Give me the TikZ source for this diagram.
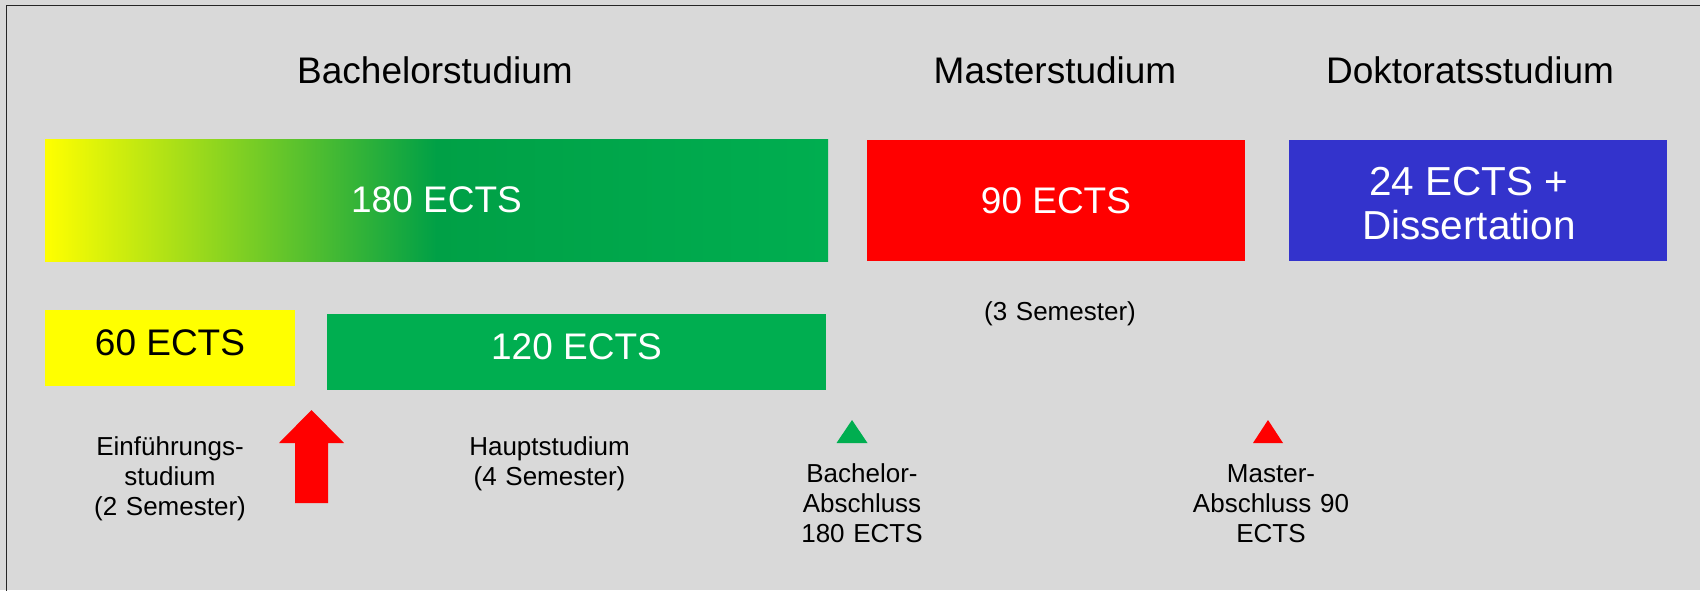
\documentclass[tikz,border=0pt]{standalone}
\usepackage{fontspec}
\setmainfont{Liberation Sans}
\definecolor{bg}{HTML}{D9D9D9}
\definecolor{gyel}{HTML}{FFFF00}
\definecolor{gdk}{HTML}{00A046}
\definecolor{ggrn}{HTML}{00AE50}
\definecolor{mred}{HTML}{FF0000}
\definecolor{dblue}{HTML}{3333CC}
\pgfdeclarehorizontalshading{bachgrad}{100bp}{color(0bp)=(gyel); color(25bp)=(gyel); color(50bp)=(gdk); color(75bp)=(ggrn); color(100bp)=(ggrn)}
\begin{document}
\begin{tikzpicture}[x=1pt,y=-1pt,
  bar/.style={rectangle, inner sep=0pt, outer sep=0pt},
  bigtxt/.style={font=\fontsize{37}{45}\selectfont},
  titletxt/.style={font=\fontsize{37}{45}\selectfont, inner sep=0pt, anchor=base},
  smalltxt/.style={font=\fontsize{26}{30}\selectfont, align=center, text width=240pt, inner sep=0pt, anchor=base},
  blockarrow/.style={fill=mred}
]
\useasboundingbox (0,0) rectangle (1700,590);
\fill[bg] (0,0) rectangle (1700,590);
\draw[line width=1.4pt, color=black!85] (6.5,592) -- (6.5,5.3) -- (1702,5.3);

% titles
\node[titletxt] (tb) at (435,83.3) {Bachelorstudium};
\node[titletxt] (tm) at (1055,83.3) {Masterstudium};
\node[titletxt] (td) at (1470,83.3) {Doktoratsstudium};

% top bars
\node[bar, shading=bachgrad, minimum width=783pt, minimum height=122pt, text=white, bigtxt] (bach) at (436.5,200) {180 ECTS};
\node[bar, fill=mred, minimum width=378pt, minimum height=121pt, text=white, bigtxt] (mast) at (1056,200.5) {90 ECTS};
\node[bar, fill=dblue, minimum width=378pt, minimum height=121pt] (dokt) at (1478,200.5) {};
\node[text=white, font=\fontsize{40.5}{44}\selectfont, align=center, inner sep=0pt] (dokttxt) at (1469,204) {24 ECTS +\\Dissertation};

% second row
\node[bar, fill=gyel, minimum width=250pt, minimum height=76pt, bigtxt, text height=26.5pt, text depth=11pt] (ein) at (170,348) {60 ECTS};
\node[bar, fill=ggrn, minimum width=499pt, minimum height=76pt, text=white, bigtxt, text height=26.5pt, text depth=12pt] (haupt) at (576.5,352) {120 ECTS};

\node[smalltxt] (ls) at (1060,320.5) {(3 Semester)};

% arrow and markers
\fill[blockarrow] (311.5,410) -- (344,443) -- (328,443) -- (328,503) -- (295,503) -- (295,443) -- (279,443) -- cycle;
\fill[ggrn] (836.5,443) -- (852,420) -- (867.5,443) -- cycle;
\fill[mred] (1253,443) -- (1268,420) -- (1283,443) -- cycle;

% lower labels
\node[smalltxt] (le) at (170,455) {Einführungs-\\studium\\(2 Semester)};
\node[smalltxt] (lh) at (549.5,455) {Hauptstudium\\(4 Semester)};
\node[smalltxt] (lb) at (862,482.5) {Bachelor-\\Abschluss\\180 ECTS};
\node[smalltxt] (lm) at (1271,482.5) {Master-\\Abschluss 90\\ECTS};
\end{tikzpicture}
\end{document}
